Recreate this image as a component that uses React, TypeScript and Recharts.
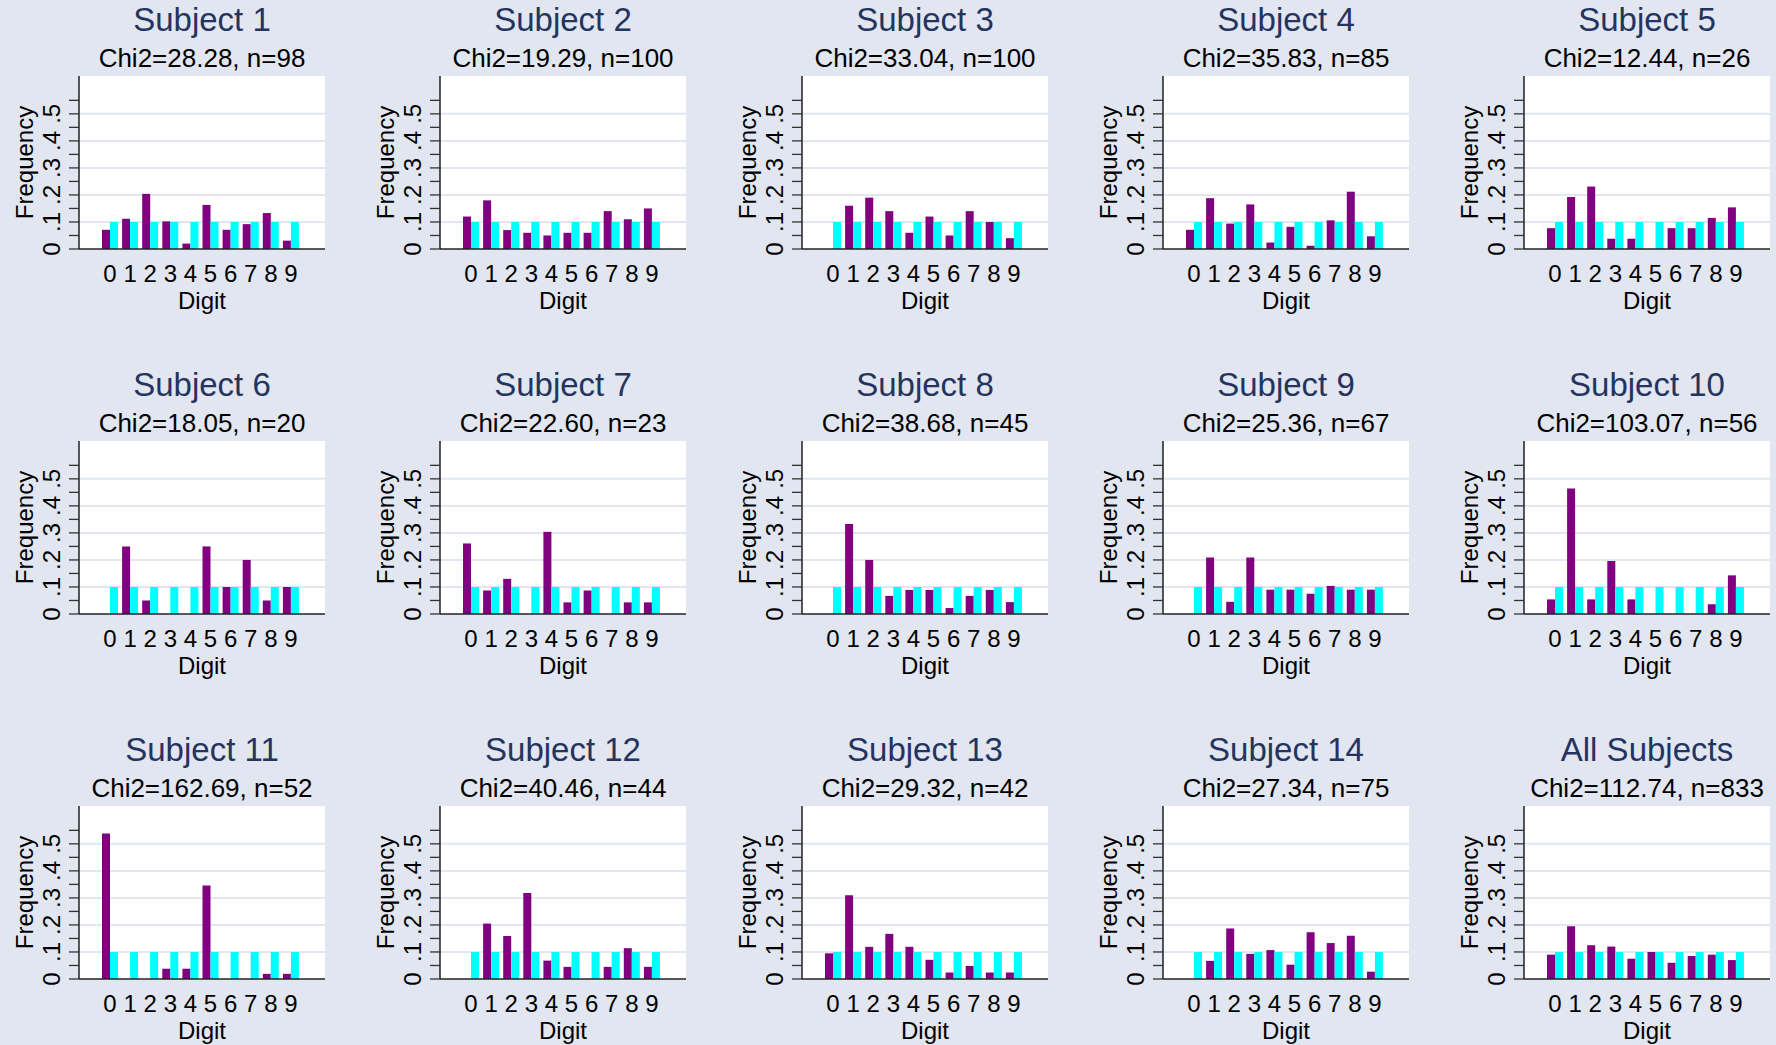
import React from "react";
import { BarChart, Bar, XAxis, YAxis, CartesianGrid } from "recharts";

// ---------- data ----------
const DIGITS = ["0", "1", "2", "3", "4", "5", "6", "7", "8", "9"];
const EXPECTED = [0.1, 0.1, 0.1, 0.1, 0.1, 0.1, 0.1, 0.1, 0.1, 0.1];

const S1 = [0.071, 0.112, 0.204, 0.102, 0.02, 0.163, 0.071, 0.092, 0.133, 0.031];
const S2 = [0.12, 0.18, 0.07, 0.06, 0.05, 0.06, 0.06, 0.14, 0.11, 0.15];
const S3 = [0, 0.16, 0.19, 0.14, 0.06, 0.12, 0.05, 0.14, 0.1, 0.04];
const S4 = [0.071, 0.188, 0.094, 0.165, 0.024, 0.082, 0.012, 0.106, 0.212, 0.047];
const S5 = [0.077, 0.192, 0.231, 0.038, 0.038, 0, 0.077, 0.077, 0.115, 0.154];
const S6 = [0, 0.25, 0.05, 0, 0, 0.25, 0.1, 0.2, 0.05, 0.1];
const S7 = [0.261, 0.087, 0.13, 0, 0.304, 0.043, 0.087, 0, 0.043, 0.043];
const S8 = [0, 0.333, 0.2, 0.067, 0.089, 0.089, 0.022, 0.067, 0.089, 0.044];
const S9 = [0, 0.209, 0.045, 0.209, 0.09, 0.09, 0.075, 0.104, 0.09, 0.09];
const S10 = [0.054, 0.464, 0.054, 0.196, 0.054, 0, 0, 0, 0.036, 0.143];
const S11 = [0.538, 0, 0, 0.038, 0.038, 0.346, 0, 0, 0.019, 0.019];
const S12 = [0, 0.205, 0.159, 0.318, 0.068, 0.045, 0, 0.045, 0.114, 0.045];
const S13 = [0.095, 0.31, 0.119, 0.167, 0.119, 0.071, 0.024, 0.048, 0.024, 0.024];
const S14 = [0, 0.067, 0.187, 0.093, 0.107, 0.053, 0.173, 0.133, 0.16, 0.027];
const ALL = [0.09, 0.195, 0.125, 0.12, 0.075, 0.1, 0.06, 0.085, 0.09, 0.07];

const OBSERVED = [S1, S2, S3, S4, S5, S6, S7, S8, S9, S10, S11, S12, S13, S14, ALL];

const TITLES = [
  "Subject 1", "Subject 2", "Subject 3", "Subject 4", "Subject 5",
  "Subject 6", "Subject 7", "Subject 8", "Subject 9", "Subject 10",
  "Subject 11", "Subject 12", "Subject 13", "Subject 14", "All Subjects",
];
const CHI2 = [
  "28.28", "19.29", "33.04", "35.83", "12.44",
  "18.05", "22.60", "38.68", "25.36", "103.07",
  "162.69", "40.46", "29.32", "27.34", "112.74",
];
const N = [98, 100, 100, 85, 26, 20, 23, 45, 67, 56, 52, 44, 42, 75, 833];

const Y_TICKS = [0, 0.05, 0.1, 0.15, 0.2, 0.25, 0.3, 0.35, 0.4, 0.45, 0.5, 0.55];
const GRID_VALUES = [0.1, 0.2, 0.3, 0.4, 0.5];

// ---------- style ----------
const BG = "#e1e6f0";
const NAVY = "#24345f";
const PURPLE = "#800080";
const CYAN = "#00ffff";
const FONT = "'Liberation Sans', Arial, Helvetica, sans-serif";
const AXIS_FS = 24;

const CW = 340;
const CH = 320;
const PLOT_LEFT = 79;
const PLOT_RIGHT = 325;
const PLOT_TOP = 76;
const PLOT_BOTTOM = 249;
const PLOT_CX = (PLOT_LEFT + PLOT_RIGHT) / 2;
const PLOT_CY = (PLOT_TOP + PLOT_BOTTOM) / 2;

const fmtY = (v: number) => (v === 0 ? "0" : v.toFixed(1).replace(/^0/, ""));

const YTick = (props: any) => {
  const { y, payload } = props;
  const v = payload.value as number;
  if (Math.abs(v * 10 - Math.round(v * 10)) > 1e-6) return <g />;
  const bx = 60;
  return (
    <text
      x={bx}
      y={y}
      transform={`rotate(-90, ${bx}, ${y})`}
      textAnchor="middle"
      fontSize={AXIS_FS}
      fontFamily={FONT}
      fill="#000"
    >
      {fmtY(v)}
    </text>
  );
};

const XTick = (props: any) => {
  const { x, payload } = props;
  return (
    <text x={x} y={282} textAnchor="middle" fontSize={AXIS_FS} fontFamily={FONT} fill="#000">
      {payload.value}
    </text>
  );
};

function Panel({ idx }: { idx: number }) {
  const col = idx % 5;
  const row = Math.floor(idx / 5);
  const left = Math.round(col * 361.25);
  const top = row * 365;
  const data = DIGITS.map((d, i) => ({
    digit: d,
    observed: OBSERVED[idx][i],
    expected: EXPECTED[i],
  }));
  return (
    <div style={{ position: "absolute", left, top, width: CW, height: CH }}>
      <BarChart
        width={CW}
        height={CH}
        data={data}
        margin={{ top: PLOT_TOP, left: 19, right: CW - PLOT_RIGHT, bottom: CH - PLOT_BOTTOM - 40 }}
        barGap={0}
      >
        <CartesianGrid
          vertical={false}
          horizontalValues={GRID_VALUES}
          stroke={BG}
          strokeWidth={2}
          fill="#ffffff"
          fillOpacity={1}
        />
        <XAxis
          dataKey="digit"
          height={40}
          tickSize={0}
          tickMargin={0}
          tickLine={false}
          axisLine={{ stroke: "#222", strokeWidth: 1.4 }}
          tick={<XTick />}
          interval={0}
          padding={{ left: 21, right: 24 }}
        />
        <YAxis
          width={60}
          type="number"
          domain={[0, 0.64]}
          ticks={Y_TICKS}
          interval={0}
          allowDataOverflow
          tickSize={10}
          tickLine={{ stroke: "#333", strokeWidth: 1.3 }}
          axisLine={{ stroke: "#111", strokeWidth: 1.4 }}
          tick={<YTick />}
        />
        <Bar dataKey="observed" fill={PURPLE} barSize={8} isAnimationActive={false} />
        <Bar dataKey="expected" fill={CYAN} barSize={8} isAnimationActive={false} />
      </BarChart>
      <svg
        width={CW}
        height={CH}
        style={{ position: "absolute", left: 0, top: 0, pointerEvents: "none" }}
      >
        <text x={PLOT_CX} y={31} textAnchor="middle" fontSize={33} fontFamily={FONT} fill={NAVY}>
          {TITLES[idx]}
        </text>
        <text x={PLOT_CX} y={67} textAnchor="middle" fontSize={26} fontFamily={FONT} fill="#000">
          {`Chi2=${CHI2[idx]}, n=${N[idx]}`}
        </text>
        <text
          x={33}
          y={PLOT_CY}
          transform={`rotate(-90, 33, ${PLOT_CY})`}
          textAnchor="middle"
          fontSize={AXIS_FS}
          fontFamily={FONT}
          fill="#000"
        >
          Frequency
        </text>
        <text x={PLOT_CX} y={309} textAnchor="middle" fontSize={AXIS_FS} fontFamily={FONT} fill="#000">
          Digit
        </text>
      </svg>
    </div>
  );
}

export default function App() {
  return (
    <div
      style={{
        position: "absolute",
        left: 0,
        top: 0,
        width: 1776,
        height: 1045,
        background: BG,
        overflow: "hidden",
        fontFamily: FONT,
      }}
    >
      {TITLES.map((_, i) => (
        <Panel key={i} idx={i} />
      ))}
    </div>
  );
}
